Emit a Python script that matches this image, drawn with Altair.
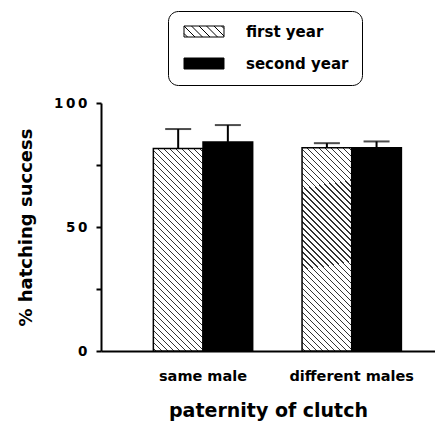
import altair as alt
import pandas as pd

# ---- data ----
paternity = ["same male", "different males"]
years = ["first year", "second year"]
mean_first = [81.7, 82.0]
mean_second = [84.3, 82.0]
sem_first = [7.8, 1.8]
sem_second = [6.8, 2.5]

rows = []
for i, p in enumerate(paternity):
    rows.append({"paternity": p, "year": years[0], "mean": mean_first[i], "sem": sem_first[i]})
    rows.append({"paternity": p, "year": years[1], "mean": mean_second[i], "sem": sem_second[i]})
df = pd.DataFrame(rows)

# ---- layout / style ----
PLOT_W, PLOT_H = 334, 248
FONT = "DejaVu Sans"

# diagonal hatch for the first-year bars, built as a striped linear gradient
bar_w = 49.7
bar_h = mean_first[0] / 100 * PLOT_H
span = bar_w + bar_h
k = span / (bar_w ** 2 + bar_h ** 2)
period = 6.0
line_w = 1.3
n = int(span // period)
stops = [{"offset": 0, "color": "white"}]
for i in range(n):
    c = (i + 0.5) * period / span
    a = round(c - line_w / 2 / span, 5)
    b = round(c + line_w / 2 / span, 5)
    stops += [
        {"offset": a, "color": "white"},
        {"offset": a, "color": "#333333"},
        {"offset": b, "color": "#333333"},
        {"offset": b, "color": "white"},
    ]
stops.append({"offset": 1, "color": "white"})
hatch = {"gradient": "linear", "x1": 0, "y1": 1,
         "x2": round(k * bar_w, 5), "y2": round(1 - k * bar_h, 5), "stops": stops}

# legend swatch paths (unit = half of sqrt(symbolSize) = 5.5 px)
U = 5.5
hw, hh = 20 / U, 1.0
rect_path = f"M{-hw:.3f},{-hh}H{hw:.3f}V{hh}H{-hw:.3f}Z"
segs = []
c = -22.0
while c < 26:
    x0, y0 = c - 5.5, -5.5
    x1, y1 = c + 5.5, 5.5
    if x0 < -20:
        y0 += (-20 - x0); x0 = -20
    if x1 > 20:
        y1 -= (x1 - 20); x1 = 20
    if x1 > x0:
        segs.append(f"M{x0 / U:.3f},{y0 / U:.3f}L{x1 / U:.3f},{y1 / U:.3f}")
    c += 7.5
hatch_path = rect_path + "".join(segs)

x_enc = alt.X("paternity:N", sort=paternity,
              scale=alt.Scale(domain=paternity, paddingInner=0.332, paddingOuter=0.289, align=0.609),
              axis=alt.Axis(title="paternity of clutch", labelAngle=0, ticks=False, tickSize=0,
                            labelPadding=18, titlePadding=19,
                            labelFont=FONT, labelFontSize=14.5, labelFontWeight="bold", labelColor="black",
                            titleFont=FONT, titleFontSize=19, titleFontWeight="bold", titleColor="black",
                            domainColor="black", domainWidth=2))
xoff = alt.XOffset("year:N", sort=years, scale=alt.Scale(domain=years, paddingInner=0, paddingOuter=0))
y_scale = alt.Scale(domain=[0, 100], nice=False)

space = "\u2009"
y_axis = alt.Axis(title="% hatching success", values=[0, 25, 50, 75, 100],
                  labelExpr=f"datum.value % 50 === 0 ? join(split(datum.label, ''), '{space}') : ''",
                  grid=False, tickSize=5, tickWidth=2, tickColor="black",
                  domainColor="black", domainWidth=2, labelPadding=9,
                  labelFont=FONT, labelFontSize=13.5, labelFontWeight="bold", labelColor="black",
                  titleFont=FONT, titleFontSize=18, titleFontWeight="bold", titleColor="black",
                  titlePadding=18)

base = alt.Chart(df)

bars = base.mark_bar(stroke="black", strokeWidth=1.5).encode(
    x=x_enc,
    xOffset=xoff,
    y=alt.Y("mean:Q", scale=y_scale, axis=y_axis),
    fill=alt.condition(alt.datum.year == years[0], alt.value(hatch), alt.value("black")),
)

err = base.transform_calculate(upper="datum.mean + datum.sem")

stems = err.mark_rule(color="black", strokeWidth=2).encode(
    x=alt.X("paternity:N", sort=paternity),
    xOffset=xoff,
    y=alt.Y("mean:Q", scale=y_scale),
    y2="upper:Q",
)

caps = err.mark_tick(color="black", thickness=2, size=26, orient="horizontal").encode(
    x=alt.X("paternity:N", sort=paternity),
    xOffset=xoff,
    y=alt.Y("upper:Q", scale=y_scale),
)

leg = alt.Legend(orient="none", legendX=67, legendY=-92, title=None, padding=13,
                 strokeColor="black", cornerRadius=10,
                 symbolSize=121, symbolOffset=15.5, labelOffset=34.5, rowPadding=16,
                 symbolStrokeColor="black", symbolStrokeWidth=1,
                 labelFont=FONT, labelFontSize=15, labelFontWeight="bold", labelColor="black")

legend_layer = base.transform_filter("datum.mean < 0").mark_point(
    filled=True, strokeWidth=1, opacity=1
).encode(
    x=alt.X("paternity:N", sort=paternity),
    y=alt.Y("mean:Q", scale=y_scale),
    fill=alt.Fill("year:N", sort=years, scale=alt.Scale(domain=years, range=["white", "black"]), legend=leg),
    stroke=alt.Stroke("year:N", sort=years, scale=alt.Scale(domain=years, range=["black", "black"]), legend=leg),
    shape=alt.Shape("year:N", sort=years, scale=alt.Scale(domain=years, range=[hatch_path, rect_path]), legend=leg),
)

chart = alt.layer(bars, stems, caps, legend_layer).properties(
    width=PLOT_W, height=PLOT_H,
    autosize=alt.AutoSizeParams(type="none"),
    padding={"left": 93, "top": 95, "right": 0, "bottom": 72},
    background="white",
).configure_view(stroke=None)

chart.save("out.html", embed_options={"renderer": "svg", "actions": False})
